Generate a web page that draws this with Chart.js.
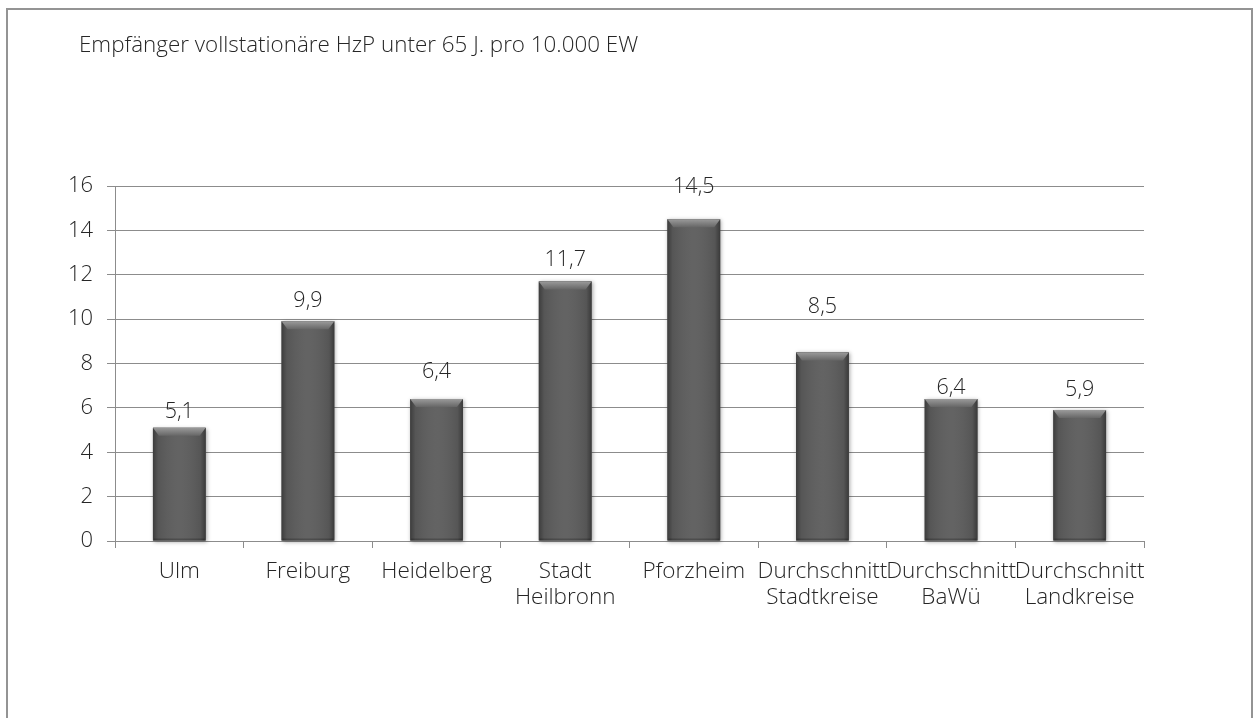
<!DOCTYPE html>
<html lang="de">
<head>
<meta charset="utf-8">
<title>Empfänger vollstationäre HzP unter 65 J. pro 10.000 EW</title>
<script src="https://cdn.jsdelivr.net/npm/chart.js@4"></script>
<style>
  html, body { margin: 0; padding: 0; background: #fff; overflow: hidden; }
  #wrap { position: relative; width: 1254px; height: 718px; overflow: hidden; }
  #frame {
    position: absolute; left: 6px; top: 8px; width: 1243px; height: 800px;
    border: 2px solid #949494; box-sizing: content-box; pointer-events: none;
  }
  canvas { position: absolute; left: 0; top: 0; }
</style>
</head>
<body>
<div id="wrap">
  <canvas id="chart" width="1254" height="718"></canvas>
  <div id="frame"></div>
</div>
<script>
// Chart content
const TITLE = 'Empfänger vollstationäre HzP unter 65 J. pro 10.000 EW';
const categories = [
  'Ulm',
  'Freiburg',
  'Heidelberg',
  ['Stadt', 'Heilbronn'],
  'Pforzheim',
  ['Durchschnitt', 'Stadtkreise'],
  ['Durchschnitt', 'BaWü'],
  ['Durchschnitt', 'Landkreise']
];
const values = [5.1, 9.9, 6.4, 11.7, 14.5, 8.5, 6.4, 5.9];
const yTicks = [0, 2, 4, 6, 8, 10, 12, 14, 16];

// Gap (px) between each bar top and the baseline of its value label
const labelGaps = [10, 14, 21, 15, 26, 39, 5, 14];

const FONT = "'Open Sans', 'Noto Sans', sans-serif";
const WEIGHT = 300;
const TEXT = '#262626';
const LINE = '#8c8c8c';

const fmt = v => v.toFixed(1).replace('.', ',');

// Chart title, drawn at the top-left of the frame
const titlePlugin = {
  id: 'cornerTitle',
  afterDraw(chart) {
    const ctx = chart.ctx;
    ctx.save();
    ctx.font = WEIGHT + ' 22.4px ' + FONT;
    ctx.fillStyle = TEXT;
    ctx.textAlign = 'left';
    ctx.textBaseline = 'alphabetic';
    ctx.fillText(TITLE, 79, 52);
    ctx.restore();
  }
};

// Bevel shading on each bar: soft shadow, darker sides, lighter chamfered top
const bevelPlugin = {
  id: 'bevel',
  beforeDatasetsDraw(chart) {
    const ctx = chart.ctx;
    const meta = chart.getDatasetMeta(0);
    ctx.save();
    ctx.shadowColor = 'rgba(0,0,0,0.35)';
    ctx.shadowBlur = 4;
    ctx.shadowOffsetX = 1;
    ctx.shadowOffsetY = 1;
    ctx.fillStyle = '#5d5d5d';
    meta.data.forEach(bar => {
      const w = bar.width, l = bar.x - w / 2;
      ctx.fillRect(l, bar.y, w, bar.base - bar.y);
    });
    ctx.restore();
  },
  afterDatasetsDraw(chart) {
    const ctx = chart.ctx;
    const meta = chart.getDatasetMeta(0);
    ctx.save();
    meta.data.forEach(bar => {
      const w = bar.width, l = bar.x - w / 2, r = l + w, top = bar.y, base = bar.base;
      const b = 6;
      // side darkening
      const g = ctx.createLinearGradient(l, 0, r, 0);
      g.addColorStop(0, 'rgba(0,0,0,0.35)');
      g.addColorStop(0.1, 'rgba(0,0,0,0.08)');
      g.addColorStop(0.5, 'rgba(255,255,255,0.04)');
      g.addColorStop(0.9, 'rgba(0,0,0,0.08)');
      g.addColorStop(1, 'rgba(0,0,0,0.38)');
      ctx.fillStyle = g;
      ctx.fillRect(l, top, w, base - top);
      // top chamfer
      const tg = ctx.createLinearGradient(0, top, 0, top + b + 2);
      tg.addColorStop(0, '#9a9a9a');
      tg.addColorStop(1, '#666666');
      ctx.fillStyle = tg;
      ctx.beginPath();
      ctx.moveTo(l, top);
      ctx.lineTo(r, top);
      ctx.lineTo(r - b, top + b + 2);
      ctx.lineTo(l + b, top + b + 2);
      ctx.closePath();
      ctx.fill();
      // bottom edge shade
      ctx.fillStyle = 'rgba(0,0,0,0.22)';
      ctx.fillRect(l + 1, base - 2, w - 2, 2);
    });
    ctx.restore();
  }
};

// Value labels above bars
const valueLabels = {
  id: 'valueLabels',
  afterDatasetsDraw(chart) {
    const ctx = chart.ctx;
    const meta = chart.getDatasetMeta(0);
    ctx.save();
    ctx.font = WEIGHT + ' 21.5px ' + FONT;
    ctx.fillStyle = TEXT;
    ctx.textAlign = 'center';
    ctx.textBaseline = 'alphabetic';
    meta.data.forEach((bar, i) => {
      ctx.fillText(fmt(values[i]), bar.x, bar.y - labelGaps[i]);
    });
    ctx.restore();
  }
};

new Chart(document.getElementById('chart'), {
  type: 'bar',
  data: {
    labels: categories,
    datasets: [{
      data: values,
      backgroundColor: '#5d5d5d',
      borderWidth: 0,
      barPercentage: 0.41,
      categoryPercentage: 1
    }]
  },
  options: {
    responsive: false,
    animation: false,
    events: [],
    layout: { padding: { left: 0, right: 110, top: 186, bottom: 0 } },
    plugins: {
      legend: { display: false },
      title: { display: false },
      tooltip: { enabled: false }
    },
    scales: {
      x: {
        offset: true,
        grid: {
          offset: true,
          drawOnChartArea: false,
          drawTicks: true,
          tickLength: 7,
          color: LINE,
          lineWidth: 1
        },
        border: { display: true, color: LINE, width: 1 },
        ticks: {
          color: TEXT,
          font: { family: FONT, size: 22.5, weight: WEIGHT, lineHeight: 1.13 },
          padding: 11,
          maxRotation: 0,
          minRotation: 0,
          autoSkip: false
        },
        afterFit(scale) { scale.height = 177; }
      },
      y: {
        min: 0,
        max: 16,
        afterBuildTicks(scale) { scale.ticks = yTicks.map(v => ({ value: v })); },
        grid: {
          color: LINE,
          lineWidth: 1,
          tickLength: 8,
          drawTicks: true
        },
        border: { display: true, color: LINE, width: 1 },
        ticks: {
          color: TEXT,
          font: { family: FONT, size: 22, weight: WEIGHT },
          padding: 14,
          callback: v => String(v)
        },
        afterFit(scale) { scale.width = 115; }
      }
    }
  },
  plugins: [titlePlugin, bevelPlugin, valueLabels]
});
</script>
</body>
</html>
